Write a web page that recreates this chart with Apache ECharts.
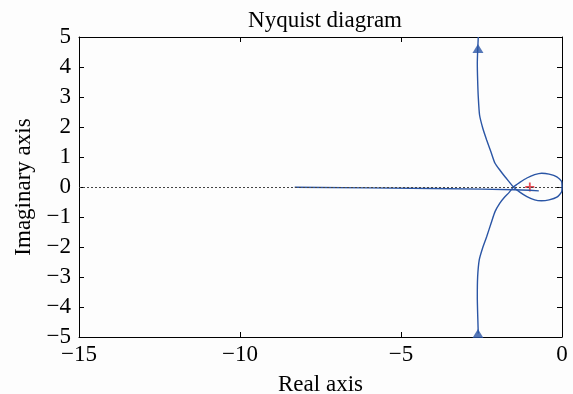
<!DOCTYPE html>
<html>
<head>
<meta charset="utf-8">
<script src="https://cdn.jsdelivr.net/npm/echarts@6/dist/echarts.min.js"></script>
<style>
html,body{margin:0;padding:0;background:#fdfdfd;}
#c{width:573px;height:394px;}
</style>
</head>
<body>
<div id="c"></div>
<script>
// Nyquist curve (real, imaginary), drawn in order
const curveRe = [-2.60, -2.63, -2.62, -2.60, -2.56, -2.46, -2.34, -2.20, -2.08, -1.92, -1.77, -1.64, -1.51,
  -1.30, -1.09, -0.85, -0.64, -0.40, -0.16, -0.01, 0.0,
  -0.01, -0.16, -0.40, -0.63, -0.85, -1.09, -1.30, -1.51,
  -1.64, -1.80, -1.93, -2.08, -2.20, -2.34, -2.47, -2.57, -2.62, -2.63, -2.60];
const curveIm = [5.0, 4.12, 3.57, 3.0, 2.40, 1.96, 1.57, 1.15, 0.79, 0.55, 0.34, 0.17, 0.0,
  -0.18, -0.32, -0.43, -0.46, -0.43, -0.34, -0.16, 0.0,
  0.18, 0.34, 0.43, 0.46, 0.41, 0.30, 0.16, 0.0,
  -0.18, -0.36, -0.54, -0.82, -1.20, -1.66, -2.05, -2.43, -3.00, -3.66, -4.88];
// near-horizontal branch
const lineRe = [-8.3, -6.0, -4.0, -2.5, -1.5, -1.0, -0.72];
const lineIm = [-0.01, -0.03, -0.05, -0.07, -0.09, -0.11, -0.13];
// direction arrows
const arrowRe = [-2.61, -2.61];
const arrowIm = [4.62, -4.88];
// critical point
const critRe = [-1.0];
const critIm = [0.0];

const xTicks = [-15, -10, -5, 0];
const yTicks = [-5, -4, -3, -2, -1, 0, 1, 2, 3, 4, 5];

const zip = (a, b) => a.map((v, i) => [v, b[i]]);
const fmt = v => String(v).replace('-', '\u2212');
const FONT = 'Liberation Serif';
const BLUE = '#2a55a5';
const FS = 23;

const axisCommon = {
  type: 'value',
  axisLine: {show: true, onZero: false, lineStyle: {color: '#000', width: 1}},
  axisTick: {show: true, inside: true, length: 5, lineStyle: {color: '#000'}},
  splitLine: {show: false},
};

const chart = echarts.init(document.getElementById('c'));
chart.setOption({
  backgroundColor: '#fdfdfd',
  animation: false,
  title: {
    text: 'Nyquist diagram', left: 320, top: 4, textAlign: 'center',
    textStyle: {fontFamily: FONT, fontSize: FS, fontWeight: 'normal', color: '#000'}
  },
  grid: {left: 79, right: 11, top: 37, bottom: 57, containLabel: false, outerBoundsMode: 'none'},
  xAxis: [
    Object.assign({}, axisCommon, {
      position: 'bottom', min: -15, max: 0, interval: 5,
      axisLabel: {fontFamily: FONT, fontSize: FS, color: '#000', margin: 6, formatter: fmt},
      name: 'Real axis', nameLocation: 'middle', nameGap: 36,
      nameTextStyle: {fontFamily: FONT, fontSize: FS, color: '#000'}
    }),
    Object.assign({}, axisCommon, {
      position: 'top', min: -15, max: 0, interval: 5, axisLabel: {show: false}
    })
  ],
  yAxis: [
    Object.assign({}, axisCommon, {
      position: 'left', min: -5, max: 5, interval: 1,
      axisLabel: {fontFamily: FONT, fontSize: FS, color: '#000', margin: 8, formatter: fmt},
      name: 'Imaginary axis', nameLocation: 'middle', nameGap: 42,
      nameTextStyle: {fontFamily: FONT, fontSize: FS, color: '#000'}
    }),
    Object.assign({}, axisCommon, {
      position: 'right', min: -5, max: 5, interval: 1, axisLabel: {show: false}
    })
  ],
  series: [
    {
      type: 'line', data: zip(lineRe, lineIm), showSymbol: false, symbol: 'none',
      lineStyle: {color: BLUE, width: 1.4},
      markLine: {
        silent: true, symbol: 'none', label: {show: false},
        lineStyle: {color: '#444', type: [2, 2], width: 1},
        data: [{yAxis: 0}]
      }
    },
    {
      type: 'line', data: zip(curveRe, curveIm), showSymbol: false, symbol: 'none',
      smooth: 0.2, lineStyle: {color: BLUE, width: 1.4}
    },
    {
      type: 'scatter', data: zip(arrowRe, arrowIm), symbol: 'triangle', symbolSize: [11, 9],
      itemStyle: {color: BLUE}
    },
    {
      type: 'scatter', data: zip(critRe, critIm),
      symbol: 'path://M4,0h2v10h-2z M0,4h10v2h-10z', symbolSize: 9,
      itemStyle: {color: '#e0202a'}
    }
  ]
});
</script>
</body>
</html>
